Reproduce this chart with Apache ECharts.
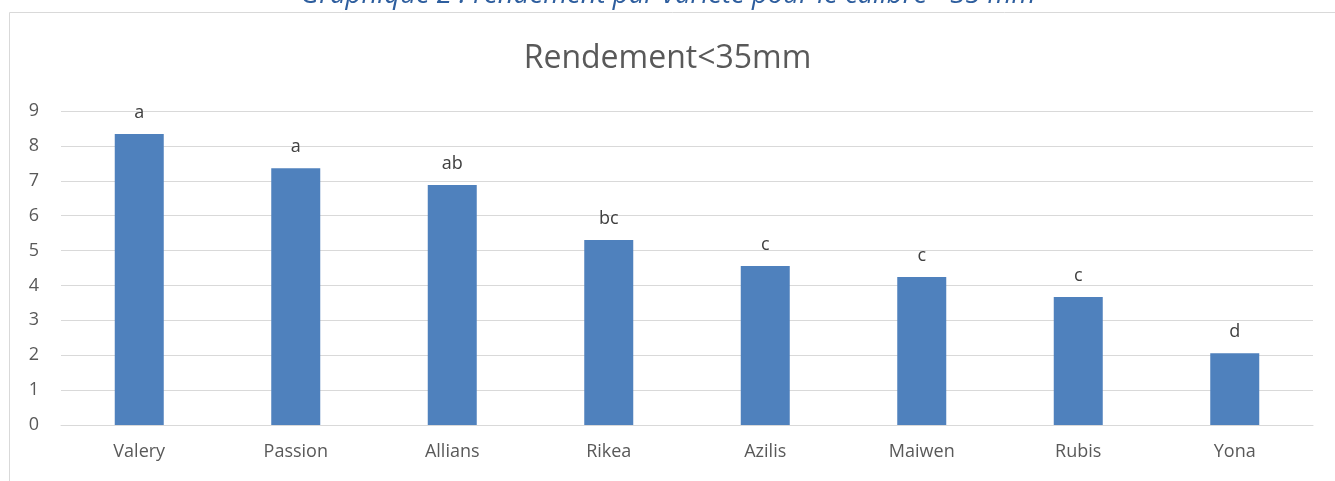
<!DOCTYPE html>
<html>
<head>
<meta charset="utf-8">
<script src="https://cdn.jsdelivr.net/npm/echarts@6/dist/echarts.min.js"></script>
<style>
  html, body { margin: 0; padding: 0; background: #fff; }
  #chart { width: 1335px; height: 481px; }
</style>
</head>
<body>
<div id="chart"></div>
<script>
const varieties = ['Valery', 'Passion', 'Allians', 'Rikea', 'Azilis', 'Maiwen', 'Rubis', 'Yona'];
const yieldValues = [8.34, 7.36, 6.88, 5.30, 4.56, 4.24, 3.67, 2.06];
const groupLetters = ['a', 'a', 'ab', 'bc', 'c', 'c', 'c', 'd'];

const chart = echarts.init(document.getElementById('chart'));
const font = '"Open Sans", Lato, sans-serif';

chart.setOption({
    animation: false,
    title: {
        text: 'Rendement<35mm',
        left: 'center',
        top: 38,
        textStyle: { fontFamily: font, fontSize: 32, fontWeight: 'normal', color: '#595959' }
    },
    graphic: [
        {
            type: 'rect',
            shape: { x: 9.5, y: 12.5, width: 1340, height: 480 },
            style: { fill: 'none', stroke: '#d9d9d9', lineWidth: 1 },
            silent: true
        },
        {
            type: 'text',
            x: 668,
            y: 9,
            style: {
                text: 'Graphique 2 : rendement par variété pour le calibre <35 mm',
                fontFamily: font,
                fontStyle: 'italic',
                fontSize: 27.5,
                fill: '#2e5e9e',
                align: 'center',
                verticalAlign: 'bottom'
            },
            silent: true
        }
    ],
    grid: { left: 61, right: 22, top: 111, bottom: 56 },
    xAxis: {
        type: 'category',
        data: varieties,
        axisLine: { lineStyle: { color: '#d9d9d9', width: 1 } },
        axisTick: { show: false },
        axisLabel: { color: '#595959', fontFamily: font, fontSize: 18, margin: 18 }
    },
    yAxis: {
        type: 'value',
        min: 0,
        max: 9,
        interval: 1,
        axisLine: { show: false },
        axisTick: { show: false },
        splitLine: { lineStyle: { color: '#d9d9d9', width: 1 } },
        axisLabel: { color: '#595959', fontFamily: font, fontSize: 18, margin: 22 }
    },
    series: [{
        type: 'bar',
        data: yieldValues,
        barWidth: 49,
        itemStyle: { color: '#4f81bd' },
        label: {
            show: true,
            position: 'top',
            distance: 12,
            color: '#404040',
            fontFamily: font,
            fontSize: 18,
            formatter: (p) => groupLetters[p.dataIndex]
        }
    }]
});
</script>
</body>
</html>
